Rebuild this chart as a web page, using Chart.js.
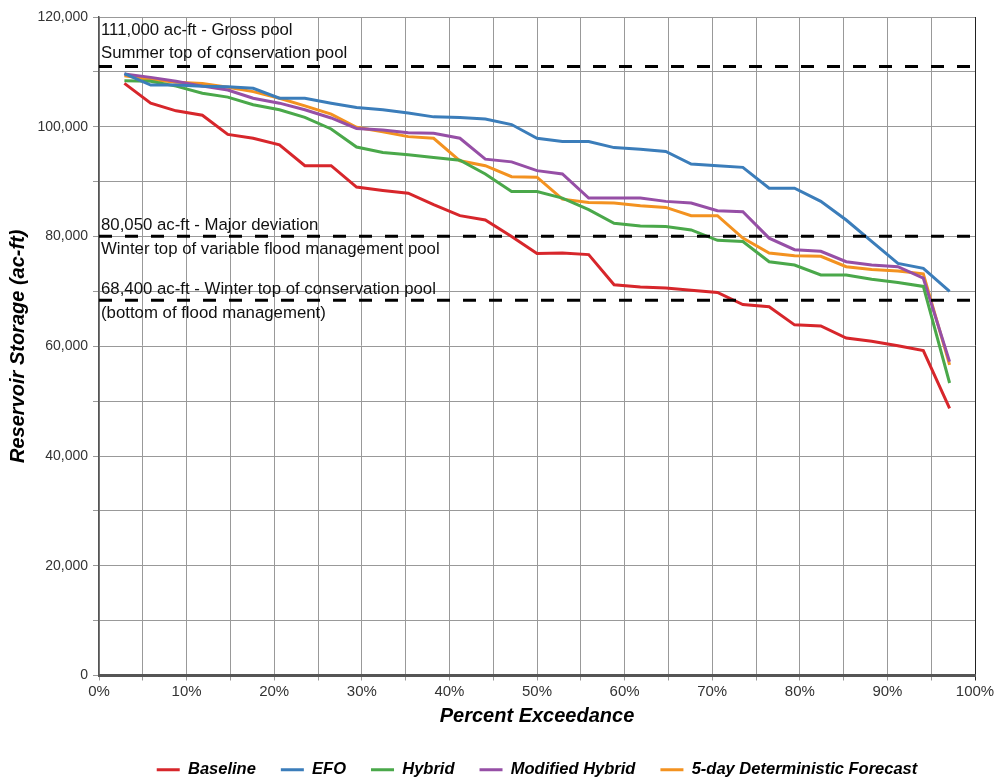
<!DOCTYPE html>
<html>
<head>
<meta charset="utf-8">
<script src="https://cdn.jsdelivr.net/npm/chart.js@4.4.1/dist/chart.umd.min.js"></script>
<style>
  html, body { margin: 0; padding: 0; background: #fff; }
  #box { width: 998px; height: 780px; }
</style>
</head>
<body>
<div id="box"><canvas id="storageChart"></canvas></div>
<script>
// percent exceedance of each ranked value
const exceedance = [2.9, 5.9, 8.8, 11.8, 14.7, 17.6, 20.6, 23.5, 26.5, 29.4, 32.4, 35.3, 38.2, 41.2, 44.1, 47.1, 50.0,
  52.9, 55.9, 58.8, 61.8, 64.7, 67.6, 70.6, 73.5, 76.5, 79.4, 82.4, 85.3, 88.2, 91.2, 94.1, 97.1];

// reservoir storage (ac-ft)
const baseline = [107900, 104300, 102900, 102100, 98600, 97900, 96700, 92900, 92900, 89000, 88400, 87900, 85800,
  83800, 83000, 80000, 76900, 77000, 76700, 71200, 70800, 70600, 70200, 69800, 67600, 67200, 63900, 63700,
  61500, 60900, 60100, 59200, 48700];
const efo = [109700, 107600, 107600, 107400, 107300, 107000, 105200, 105200, 104300, 103500, 103100, 102500, 101800,
  101700, 101400, 100400, 97900, 97300, 97300, 96200, 95900, 95500, 93200, 92900, 92600, 88800, 88800, 86400,
  83000, 79100, 75100, 74200, 70000];
const hybrid = [108400, 108300, 107400, 106100, 105400, 104000, 103100, 101700, 99600, 96300, 95300, 94900, 94400,
  93900, 91400, 88200, 88200, 87000, 84900, 82400, 81900, 81800, 81200, 79300, 79100, 75400, 74800, 73000,
  73000, 72200, 71600, 70900, 53300];
const modifiedHybrid = [109600, 109000, 108300, 107400, 106700, 105200, 104300, 103100, 101600, 99700, 99400, 98900,
  98800, 97900, 94100, 93600, 92000, 91400, 87000, 87000, 87000, 86400, 86100, 84700, 84500, 79700, 77600,
  77300, 75400, 74800, 74500, 72400, 57200];
const deterministic5day = [109300, 108600, 108100, 107900, 107200, 106400, 105200, 103800, 102300, 99900, 99100,
  98200, 97900, 93800, 92900, 90900, 90800, 86800, 86200, 86100, 85600, 85300, 83800, 83800, 79700, 77000,
  76500, 76400, 74500, 74000, 73700, 73200, 56600];

const seriesNames = ['Baseline', 'EFO', 'Hybrid', 'Modified Hybrid', '5-day Deterministic Forecast'];
const seriesColors = ['#d7262b', '#3b7dba', '#4aa84a', '#964fa6', '#f39220'];

// pool levels (ac-ft) and their notes
const poolLevels = [111000, 80050, 68400];
const poolNotes = [
  ['111,000 ac-ft - Gross pool', 'Summer top of conservation pool'],
  ['80,050 ac-ft - Major deviation', 'Winter top of variable flood management pool'],
  ['68,400 ac-ft - Winter top of conservation pool', '(bottom of flood management)']
];

const FONT = "'Liberation Sans', Arial, sans-serif";

function toPoints(values) {
  return values.map((v, i) => ({ x: exceedance[i], y: v }));
}

const seriesData = [baseline, efo, hybrid, modifiedHybrid, deterministic5day];
const datasets = seriesData.map((vals, i) => ({
  label: seriesNames[i],
  data: toPoints(vals),
  borderColor: seriesColors[i],
  backgroundColor: seriesColors[i],
  borderWidth: 3,
  pointRadius: 0,
  tension: 0
}));

poolLevels.forEach(level => {
  datasets.push({
    label: 'pool ' + level,
    data: [{ x: 0, y: level }, { x: 100, y: level }],
    borderColor: '#000',
    borderWidth: 3,
    borderDash: [13, 13],
    pointRadius: 0,
    order: -1
  });
});

// note text above / below the dashed pool lines
const poolNotesPlugin = {
  id: 'poolNotes',
  afterDatasetsDraw(chart) {
    const ctx = chart.ctx;
    const yScale = chart.scales.y;
    const left = chart.chartArea.left + 2;
    const offsets = [[-31, -8], [-6, 18], [-6, 18]];
    ctx.save();
    ctx.font = '16.8px ' + FONT;
    ctx.fillStyle = '#111';
    ctx.textAlign = 'left';
    ctx.textBaseline = 'alphabetic';
    poolLevels.forEach((level, i) => {
      const y = yScale.getPixelForValue(level);
      ctx.fillText(poolNotes[i][0], left, y + offsets[i][0]);
      ctx.fillText(poolNotes[i][1], left, y + offsets[i][1]);
    });
    ctx.restore();
  }
};

const chart = new Chart(document.getElementById('storageChart'), {
  type: 'line',
  data: { datasets: datasets },
  plugins: [poolNotesPlugin],
  options: {
    responsive: true,
    maintainAspectRatio: false,
    animation: false,
    layout: { padding: { top: 17, right: 23, bottom: -8, left: 0 } },
    plugins: {
      tooltip: { enabled: false },
      legend: {
        position: 'bottom',
        fullSize: false,
        labels: {
          usePointStyle: true,
          pointStyle: 'line',
          pointStyleWidth: 23,
          padding: 25,
          color: '#000',
          font: { family: FONT, size: 16.5, weight: 'bold', style: 'italic' },
          filter: item => item.datasetIndex < seriesNames.length
        }
      }
    },
    scales: {
      x: {
        type: 'linear',
        min: 0,
        max: 100,
        ticks: {
          stepSize: 5,
          autoSkip: false,
          maxRotation: 0,
          padding: 2,
          color: '#333',
          font: { family: FONT, size: 15 },
          callback: v => (v % 10 === 0 ? v + '%' : '')
        },
        grid: {
          color: c => (c.tick && c.tick.value === 100 ? '#222' : '#999'),
          tickLength: 5
        },
        border: { color: '#555', width: 3 },
        title: {
          display: true,
          text: 'Percent Exceedance',
          color: '#000',
          font: { family: FONT, size: 20, weight: 'bold', style: 'italic' },
          padding: { top: 2, bottom: 8 }
        },
        afterFit: s => { s.height = 61; }
      },
      y: {
        min: 0,
        max: 120000,
        ticks: {
          stepSize: 10000,
          padding: 5,
          color: '#333',
          font: { family: FONT, size: 14 },
          callback: v => (v % 20000 === 0 ? v.toLocaleString('en-US') : '')
        },
        grid: { color: '#999', tickLength: 6 },
        border: { color: '#555', width: 1.5 },
        title: {
          display: true,
          text: 'Reservoir Storage (ac-ft)',
          color: '#000',
          font: { family: FONT, size: 20, weight: 'bold', style: 'italic' },
          padding: { top: 6, bottom: 0 }
        },
        afterFit: s => { s.width = 99; }
      }
    }
  }
});
</script>
</body>
</html>
